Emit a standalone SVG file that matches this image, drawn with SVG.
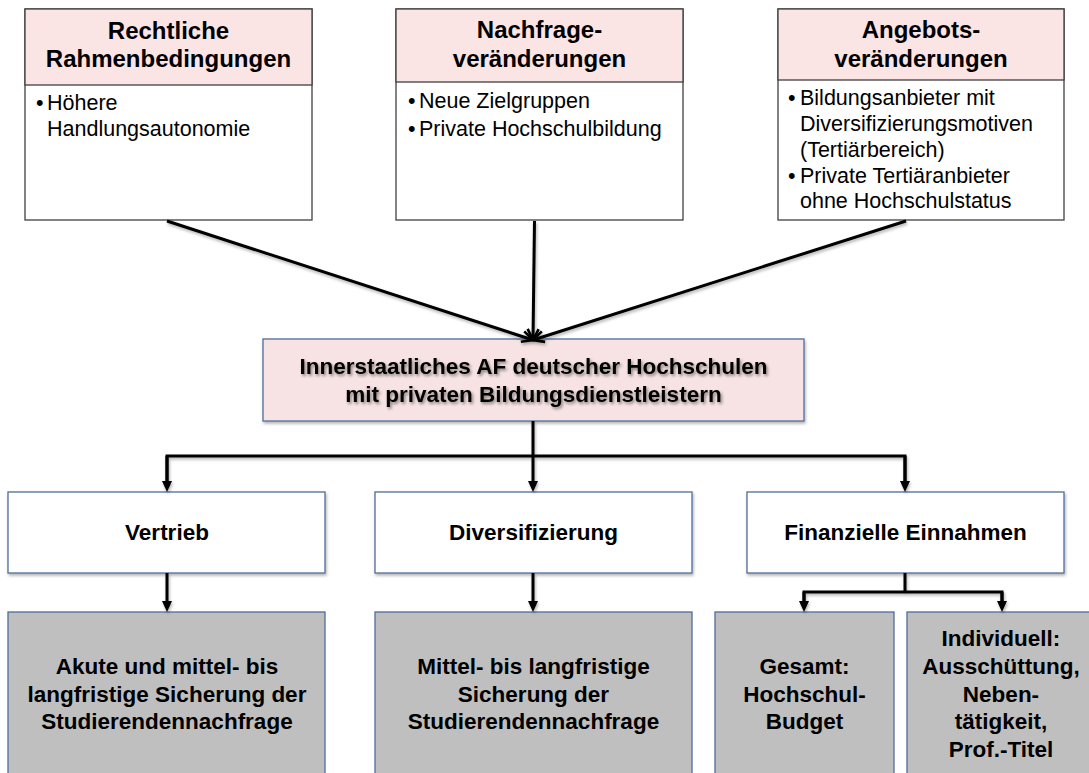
<svg xmlns="http://www.w3.org/2000/svg" width="1089" height="773" viewBox="0 0 1089 773">
  <style>
    text { font-family: "Liberation Sans", Arial, sans-serif; fill: #000; }
    .hdr { font-weight: bold; font-size: 24px; text-anchor: middle; }
    .txt { font-size: 21.5px; }
    .lbl { font-weight: bold; font-size: 22.5px; text-anchor: middle; }
    .frame { fill: #fff; stroke: #404040; stroke-width: 1.3; }
    .head { fill: #FBE4E4; stroke: #404040; stroke-width: 1.3; }
    .plain { fill: #fff; stroke: #4F6D9B; stroke-width: 1.3; }
    .pink { fill: #F7E3E3; stroke: #4F6D9B; stroke-width: 1.3; }
    .grey { fill: #BFBFBF; stroke: #4F6D9B; stroke-width: 1.3; }
    .conn { fill: none; stroke: #000; stroke-width: 3; }
  </style>
  <defs>
    <filter id="soft" x="-5%" y="-5%" width="110%" height="120%">
      <feDropShadow dx="1" dy="2" stdDeviation="1.5" flood-color="#000" flood-opacity="0.3"/>
    </filter>
    <filter id="glow" x="-5%" y="-20%" width="110%" height="150%">
      <feDropShadow dx="1.5" dy="2" stdDeviation="1.6" flood-color="#000" flood-opacity="0.45"/>
    </filter>
    <marker id="open" viewBox="0 0 14 14" refX="13" refY="7" markerWidth="14" markerHeight="14" markerUnits="userSpaceOnUse" orient="auto">
      <path d="M2,1.5 L13,7 L2,12.5" fill="none" stroke="#000" stroke-width="2.6"/>
    </marker>
    <marker id="solid" viewBox="0 0 11 11" refX="2" refY="5.5" markerWidth="11" markerHeight="11" markerUnits="userSpaceOnUse" orient="auto">
      <path d="M0,0.5 L11,5.5 L0,10.5 Z" fill="#000"/>
    </marker>
  </defs>

  <!-- upper factor boxes -->
  <g id="rechtliche">
    <rect class="frame" x="25" y="9" width="287" height="211"/>
    <rect class="head" x="25" y="9" width="287" height="76"/>
    <text class="hdr" x="168.5" y="39">Rechtliche</text>
    <text class="hdr" x="168.5" y="66.7">Rahmenbedingungen</text>
    <text class="txt" x="36" y="110">•</text>
    <text class="txt" x="47" y="110">Höhere</text>
    <text class="txt" x="47" y="136">Handlungsautonomie</text>
  </g>

  <g id="nachfrage">
    <rect class="frame" x="396" y="9" width="287" height="211"/>
    <rect class="head" x="396" y="9" width="287" height="73"/>
    <text class="hdr" x="539.5" y="38">Nachfrage-</text>
    <text class="hdr" x="539.5" y="66.7">veränderungen</text>
    <text class="txt" x="408" y="108.3">•</text>
    <text class="txt" x="419" y="108.3">Neue Zielgruppen</text>
    <text class="txt" x="408" y="136">•</text>
    <text class="txt" x="419" y="136">Private Hochschulbildung</text>
  </g>

  <g id="angebot">
    <rect class="frame" x="778" y="9" width="286" height="211"/>
    <rect class="head" x="778" y="9" width="286" height="71"/>
    <text class="hdr" x="921" y="38">Angebots-</text>
    <text class="hdr" x="921" y="66.7">veränderungen</text>
    <text class="txt" x="788" y="105">•</text>
    <text class="txt" x="800" y="105">Bildungsanbieter mit</text>
    <text class="txt" x="800" y="130.7">Diversifizierungsmotiven</text>
    <text class="txt" x="800" y="156.7">(Tertiärbereich)</text>
    <text class="txt" x="788" y="182.7">•</text>
    <text class="txt" x="800" y="182.7">Private Tertiäranbieter</text>
    <text class="txt" x="800" y="208.3">ohne Hochschulstatus</text>
  </g>

  <!-- central node -->
  <g id="zentrum">
    <rect class="pink" x="263" y="339" width="541" height="82" filter="url(#soft)"/>
    <g filter="url(#glow)">
      <text class="lbl" x="533.5" y="374">Innerstaatliches AF deutscher Hochschulen</text>
      <text class="lbl" x="533.5" y="402">mit privaten Bildungsdienstleistern</text>
    </g>
  </g>

  <!-- motive boxes -->
  <g id="vertrieb">
    <rect class="plain" x="8" y="492" width="317" height="81" filter="url(#soft)"/>
    <text class="lbl" x="167" y="540">Vertrieb</text>
  </g>
  <g id="diversifizierung">
    <rect class="plain" x="375" y="492" width="317" height="81" filter="url(#soft)"/>
    <text class="lbl" x="533.5" y="540">Diversifizierung</text>
  </g>
  <g id="einnahmen">
    <rect class="plain" x="747" y="492" width="317" height="81" filter="url(#soft)"/>
    <text class="lbl" x="905.5" y="540">Finanzielle Einnahmen</text>
  </g>

  <!-- effect boxes -->
  <g id="sicherung-akut">
    <rect class="grey" x="8" y="612" width="317" height="175"/>
    <text class="lbl" x="167" y="674">Akute und mittel- bis</text>
    <text class="lbl" x="167" y="701.7">langfristige Sicherung der</text>
    <text class="lbl" x="167" y="729">Studierendennachfrage</text>
  </g>
  <g id="sicherung-lang">
    <rect class="grey" x="375" y="612" width="317" height="175"/>
    <text class="lbl" x="533.5" y="674">Mittel- bis langfristige</text>
    <text class="lbl" x="533.5" y="701.7">Sicherung der</text>
    <text class="lbl" x="533.5" y="729">Studierendennachfrage</text>
  </g>
  <g id="gesamt">
    <rect class="grey" x="715" y="612" width="179" height="175"/>
    <text class="lbl" x="804.5" y="674">Gesamt:</text>
    <text class="lbl" x="804.5" y="701.7">Hochschul-</text>
    <text class="lbl" x="804.5" y="729">Budget</text>
  </g>
  <g id="individuell">
    <rect class="grey" x="907" y="612" width="190" height="175"/>
    <text class="lbl" x="1001" y="646">Individuell:</text>
    <text class="lbl" x="1001" y="674">Ausschüttung,</text>
    <text class="lbl" x="1001" y="701.7">Neben-</text>
    <text class="lbl" x="1001" y="729">tätigkeit,</text>
    <text class="lbl" x="1001" y="756.7">Prof.-Titel</text>
  </g>

  <!-- connectors -->
  <g id="connectors" filter="url(#soft)">
    <path class="conn" d="M167,221 L533,340" marker-end="url(#open)"/>
    <path class="conn" d="M534.5,221 L533,340" marker-end="url(#open)"/>
    <path class="conn" d="M906,221 L533,340" marker-end="url(#open)"/>

    <path class="conn" d="M533,421 V456"/>
    <path class="conn" d="M167,483 V456 H905 V483"/>
    <path class="conn" d="M167,456 V483" marker-end="url(#solid)"/>
    <path class="conn" d="M533,456 V483" marker-end="url(#solid)"/>
    <path class="conn" d="M905,456 V483" marker-end="url(#solid)"/>

    <path class="conn" d="M167,573 V603" marker-end="url(#solid)"/>
    <path class="conn" d="M533,573 V603" marker-end="url(#solid)"/>

    <path class="conn" d="M905,573 V592"/>
    <path class="conn" d="M804,603 V592 H1002 V603"/>
    <path class="conn" d="M804,592 V603" marker-end="url(#solid)"/>
    <path class="conn" d="M1002,592 V603" marker-end="url(#solid)"/>
  </g>
</svg>
